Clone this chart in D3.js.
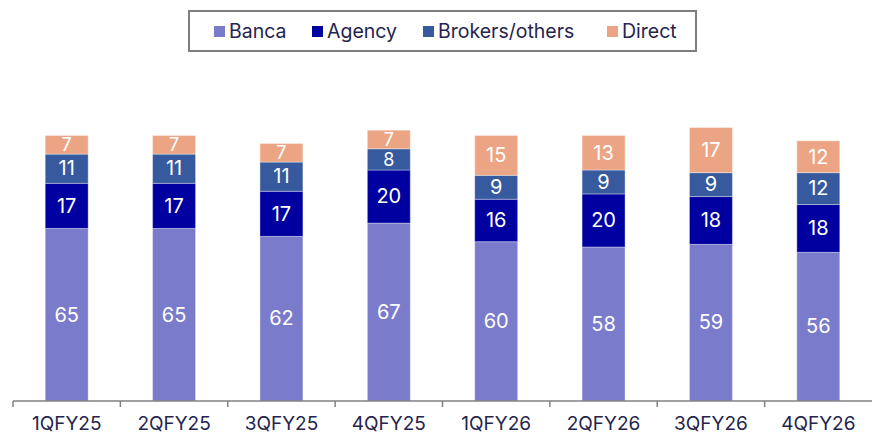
<!DOCTYPE html>
<meta charset="utf-8">
<style>
body { margin: 0; background: #fff; font-family: Inter, "Noto Sans", sans-serif; }
.axis path, .axis line { stroke: #808080; stroke-width: 1.5px; }
.axis text { font-size: 19px; fill: #24244e; font-family: Inter, sans-serif; }
.seg { stroke: #ffffff; stroke-opacity: 0.35; stroke-width: 1px; }
.val { fill: #fff; font-size: 20px; text-anchor: middle; }
.legend text { font-size: 19.5px; fill: #24244e; }
</style>
<body>
<svg id="chart" width="872" height="437"></svg>
<script src="https://cdn.jsdelivr.net/npm/d3@7"></script>
<script>
var quarters = ["1QFY25","2QFY25","3QFY25","4QFY25","1QFY26","2QFY26","3QFY26","4QFY26"];
var banca   = [65, 65, 62, 67, 60, 58, 59, 56];
var agency  = [17, 17, 17, 20, 16, 20, 18, 18];
var brokers = [11, 11, 11, 8, 9, 9, 9, 12];
var direct  = [7, 7, 7, 7, 15, 13, 17, 12];
var seriesNames = ["Banca", "Agency", "Brokers/others", "Direct"];
var colors = ["#7b7bcb", "#0000a0", "#375a9e", "#eca584"];

var svg = d3.select("#chart");
var left = 13, right = 872, base = 401;

var rows = quarters.map(function(q, i) {
  return {q: q, Banca: banca[i], Agency: agency[i], "Brokers/others": brokers[i], Direct: direct[i]};
});
var stack = d3.stack().keys(seriesNames)(rows);

var x = d3.scaleBand().domain(quarters).range([left, right]).paddingInner(0.6).paddingOuter(0.3);
var xb = d3.scaleBand().domain(quarters).range([left, right]);
var y = d3.scaleLinear().domain([0, 100]).range([base, base - 265.5]);

var layers = svg.selectAll(".layer").data(stack).enter().append("g")
  .attr("fill", function(d, i) { return colors[i]; });

layers.selectAll("rect").data(function(d) { return d; }).enter().append("rect")
  .attr("class", "seg")
  .attr("x", function(d) { return x(d.data.q); })
  .attr("width", x.bandwidth())
  .attr("y", function(d) { return y(d[1]); })
  .attr("height", function(d) { return y(d[0]) - y(d[1]); });

layers.selectAll("text").data(function(d) { return d; }).enter().append("text")
  .attr("class", "val")
  .attr("x", function(d) { return x(d.data.q) + x.bandwidth() / 2; })
  .attr("y", function(d) { return (y(d[0]) + y(d[1])) / 2; })
  .attr("dy", "0.34em")
  .style("font-size", function(d) { return (d[1] - d[0]) < 9 ? "18px" : null; })
  .text(function(d) { return d[1] - d[0]; });

// x axis with ticks between categories
var axisG = svg.append("g").attr("class", "axis").attr("transform", "translate(0," + base + ")");
axisG.append("line").attr("x1", left).attr("x2", right).attr("y1", 0).attr("y2", 0);
axisG.selectAll(".tk").data(quarters).enter().append("line")
  .attr("x1", function(d) { return xb(d); }).attr("x2", function(d) { return xb(d); })
  .attr("y1", 0).attr("y2", 6);
axisG.selectAll("text").data(quarters).enter().append("text")
  .attr("x", function(d) { return xb(d) + xb.bandwidth() / 2; })
  .attr("y", 29).attr("text-anchor", "middle")
  .text(function(d) { return d; });

// legend
var lg = svg.append("g").attr("class", "legend");
lg.append("rect").attr("x", 189).attr("y", 11).attr("width", 507).attr("height", 40)
  .attr("fill", "#fff").attr("stroke", "#7f7f7f").attr("stroke-width", 2);
var lx = [214, 312, 423, 607];
seriesNames.forEach(function(n, i) {
  lg.append("rect").attr("x", lx[i]).attr("y", 26).attr("width", 11).attr("height", 11).attr("fill", colors[i]);
  lg.append("text").attr("x", lx[i] + 15).attr("y", 31).attr("dy", "0.36em").text(n);
});
</script>
</body>
